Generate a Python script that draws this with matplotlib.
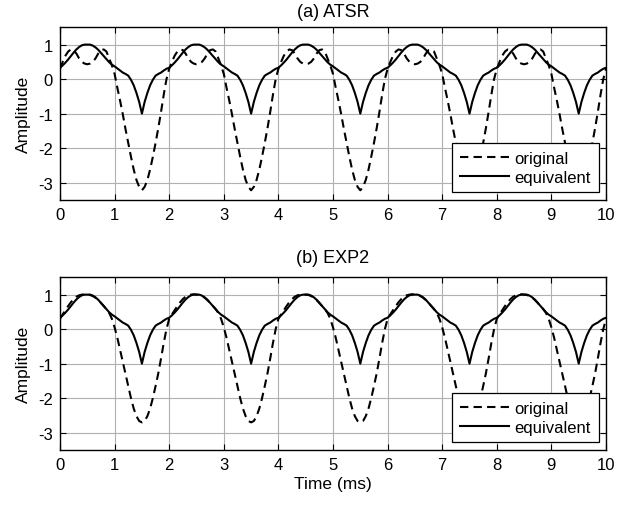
import numpy as np
import matplotlib
matplotlib.use("Agg")
from matplotlib import pyplot as plt

# one period (0 .. 2 ms, step 0.05), repeated 5 times
PERIOD = 2.0
STEP = 0.05
N_PERIODS = 5

# solid "equivalent" curve (same in both panels)
equivalent = [0.33, 0.40, 0.48, 0.57, 0.67, 0.77, 0.86, 0.93, 0.98, 1.00,
              1.00, 1.00, 0.97, 0.92, 0.85, 0.76, 0.67, 0.58, 0.49, 0.42,
              0.37, 0.31, 0.25, 0.19, 0.15, 0.10, -0.02, -0.18, -0.40, -0.66,
              -1.00, -0.66, -0.40, -0.18, -0.02, 0.10, 0.15, 0.19, 0.25, 0.30]

# dashed "original", panel (a) ATSR
original_atsr = [0.30, 0.50, 0.68, 0.80, 0.86, 0.84, 0.74, 0.60, 0.50, 0.45,
                 0.43, 0.45, 0.50, 0.60, 0.74, 0.84, 0.86, 0.80, 0.60, 0.40,
                 0.15, -0.25, -0.62, -1.02, -1.45, -1.85, -2.25, -2.62, -2.92, -3.12,
                 -3.22, -3.12, -2.92, -2.62, -2.25, -1.85, -1.42, -0.95, -0.45, 0.0]

# dashed "original", panel (b) EXP2
original_exp2 = [0.30, 0.43, 0.55, 0.67, 0.78, 0.87, 0.94, 0.98, 1.00, 1.01,
                 1.00, 0.99, 0.96, 0.91, 0.84, 0.76, 0.67, 0.58, 0.47, 0.30,
                 0.05, -0.25, -0.60, -0.95, -1.30, -1.65, -2.00, -2.30, -2.52, -2.66,
                 -2.70, -2.66, -2.52, -2.30, -2.00, -1.65, -1.28, -0.85, -0.40, 0.0]

panels = [("(a) ATSR", original_atsr), ("(b) EXP2", original_exp2)]

xticks = list(range(0, 11))
yticks = [-3, -2, -1, 0, 1]

plt.rcParams['font.family'] = ['Liberation Sans', 'DejaVu Sans']
plt.rcParams['font.size'] = 12
plt.rcParams['axes.unicode_minus'] = False


def periodic(vals):
    n = len(vals)
    t = np.arange(n * N_PERIODS + 1) * STEP
    y = np.append(np.tile(vals, N_PERIODS), vals[0])
    return t, y


fig = plt.figure(figsize=(6.31, 5.06), dpi=100)
positions = [[0.0951, 0.6028, 0.8653, 0.3412], [0.0951, 0.1087, 0.8653, 0.3412]]
title_pads = [8, 11]

for i, (title, orig) in enumerate(panels):
    ax = fig.add_axes(positions[i])
    t, yo = periodic(orig)
    t2, ye = periodic(equivalent)
    ax.plot(t, yo, '--', color='black', linewidth=1.5, dashes=(4, 2.5), label='original')
    ax.plot(t2, ye, '-', color='black', linewidth=1.5, label='equivalent')
    ax.set_xlim(0, 10)
    ax.set_ylim(-3.5, 1.5)
    ax.set_xticks(xticks)
    ax.set_yticks(yticks)
    ax.grid(True, color='#b0b0b0', linewidth=0.8)
    ax.set_axisbelow(True)
    ax.tick_params(direction='in', top=True, right=True, length=4, labelsize=12, pad=5)
    for s in ax.spines.values():
        s.set_linewidth(1.0)
    ax.set_title(title, fontsize=13, pad=title_pads[i])
    ax.set_ylabel('Amplitude', fontsize=12.5, labelpad=5)
    leg = ax.legend(loc='lower right', handlelength=2.95, fontsize=12,
                    fancybox=False, framealpha=1, edgecolor='black',
                    borderaxespad=0.45, borderpad=0.45, labelspacing=0.25,
                    handletextpad=0.35)
    leg.get_frame().set_linewidth(0.9)
    if i == 1:
        ax.set_xlabel('Time (ms)', fontsize=12.5, labelpad=3)

fig.savefig('out.png', dpi=100)
